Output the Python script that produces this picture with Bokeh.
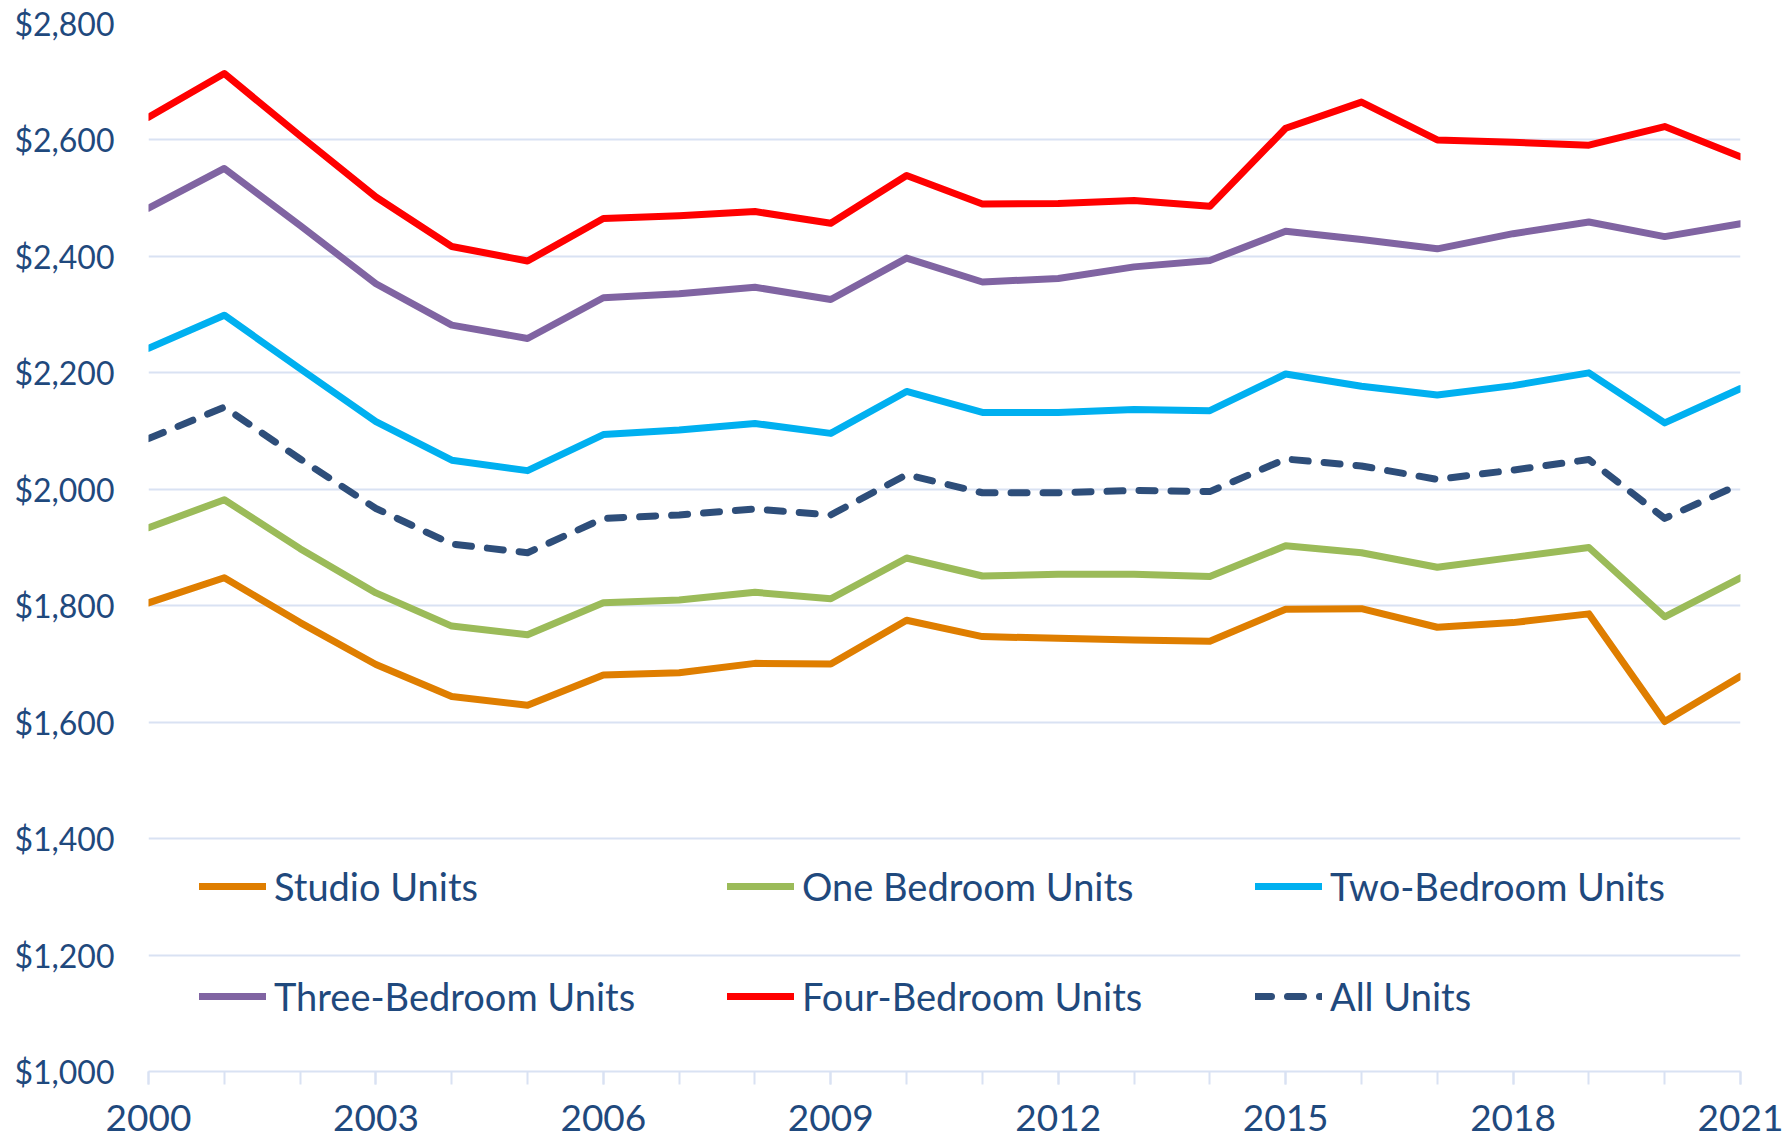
from bokeh.plotting import figure
from bokeh.models import (FixedTicker, NumeralTickFormatter, Legend, LegendItem, Range1d)
from bokeh.embed import file_html
from bokeh.resources import INLINE

years = list(range(2000, 2022))
studio = [1805, 1848, 1771, 1699, 1644, 1629, 1681, 1685, 1701, 1700, 1775, 1747, 1744, 1741, 1739, 1794, 1795, 1763, 1771, 1786, 1601, 1679]
one_bed = [1934, 1982, 1898, 1822, 1765, 1750, 1805, 1810, 1823, 1812, 1882, 1851, 1854, 1854, 1850, 1903, 1891, 1866, 1883, 1900, 1781, 1848]
two_bed = [2242, 2299, 2207, 2116, 2050, 2032, 2094, 2102, 2113, 2096, 2168, 2132, 2132, 2137, 2135, 2198, 2177, 2162, 2178, 2200, 2114, 2173]
three_bed = [2483, 2551, 2453, 2353, 2282, 2259, 2329, 2336, 2347, 2326, 2397, 2356, 2362, 2382, 2393, 2443, 2429, 2413, 2439, 2459, 2434, 2456]
four_bed = [2639, 2714, 2607, 2502, 2417, 2392, 2465, 2470, 2477, 2457, 2539, 2490, 2491, 2496, 2486, 2620, 2665, 2600, 2596, 2591, 2623, 2571]
all_units = [2087, 2141, 2052, 1967, 1906, 1891, 1950, 1956, 1966, 1956, 2025, 1994, 1994, 1998, 1996, 2052, 2040, 2017, 2033, 2051, 1950, 2009]

series_names = ["Studio Units", "One Bedroom Units", "Two-Bedroom Units",
                "Three-Bedroom Units", "Four-Bedroom Units", "All Units"]
x_label_years = [2000, 2003, 2006, 2009, 2012, 2015, 2018, 2021]
y_ticks = [1000, 1200, 1400, 1600, 1800, 2000, 2200, 2400, 2600, 2800]

FONT = "Lato"
TXT = "#1F497D"
GRID = "#D9E2F3"

p = figure(width=1786, height=1147, output_backend="svg", toolbar_location=None,
           x_range=Range1d(2000, 2021), y_range=Range1d(1000, 2800),
           min_border_left=148, min_border_right=46, min_border_top=23, min_border_bottom=76)
p.outline_line_color = None
p.background_fill_color = "white"

p.xgrid.grid_line_color = None
p.ygrid.grid_line_color = GRID
p.ygrid.grid_line_width = 2
p.ygrid.ticker = FixedTicker(ticks=y_ticks)

p.yaxis.ticker = FixedTicker(ticks=y_ticks)
p.yaxis.formatter = NumeralTickFormatter(format="$0,0")
p.yaxis.axis_line_color = None
p.yaxis.major_tick_line_color = None
p.yaxis.minor_tick_line_color = None
p.yaxis.major_tick_out = 0
p.yaxis.major_tick_in = 0
p.yaxis.major_label_standoff = 34
p.yaxis.major_label_text_font = FONT
p.yaxis.major_label_text_font_size = "32px"
p.yaxis.major_label_text_color = TXT

p.xaxis.ticker = FixedTicker(ticks=x_label_years, minor_ticks=years)
p.xaxis.axis_line_color = GRID
p.xaxis.axis_line_width = 2
p.xaxis.major_tick_line_color = GRID
p.xaxis.major_tick_line_width = 2
p.xaxis.minor_tick_line_color = GRID
p.xaxis.minor_tick_line_width = 2
p.xaxis.major_tick_out = 13
p.xaxis.major_tick_in = 0
p.xaxis.minor_tick_out = 13
p.xaxis.minor_tick_in = 0
p.xaxis.major_label_standoff = 20
p.xaxis.major_label_text_font = FONT
p.xaxis.major_label_text_font_size = "37px"
p.xaxis.major_label_text_color = TXT

colors = ["#DF7E00", "#9BBB59", "#00B0F0", "#8064A2", "#FF0000", "#2E4E7A"]
data = [studio, one_bed, two_bed, three_bed, four_bed, all_units]
renderers = []
for vals, col, name in zip(data, colors, series_names):
    kw = {}
    if name == "All Units":
        kw["line_dash"] = "16 16"
    r = p.line(years, vals, line_color=col, line_width=7, line_join="round",
               line_cap="round", **kw)
    renderers.append(r)

# legend positions (screen px from frame bottom-left), 3 columns x 2 rows
leg_x = [51, 579, 1107]
leg_y = [162, 52]
for i, (r, name) in enumerate(zip(renderers, series_names)):
    col = i % 3
    row = i // 3
    lg = Legend(items=[LegendItem(label=name, renderers=[r])],
                location=(leg_x[col], leg_y[row]),
                orientation="horizontal",
                glyph_width=67, glyph_height=40, label_height=40,
                label_standoff=8, padding=0, margin=0, spacing=0,
                border_line_alpha=0, background_fill_alpha=0,
                label_text_font=FONT, label_text_font_size="38px",
                label_text_color=TXT, label_text_baseline="middle")
    p.add_layout(lg, "center")

open("out.html", "w").write(file_html(p, INLINE))
